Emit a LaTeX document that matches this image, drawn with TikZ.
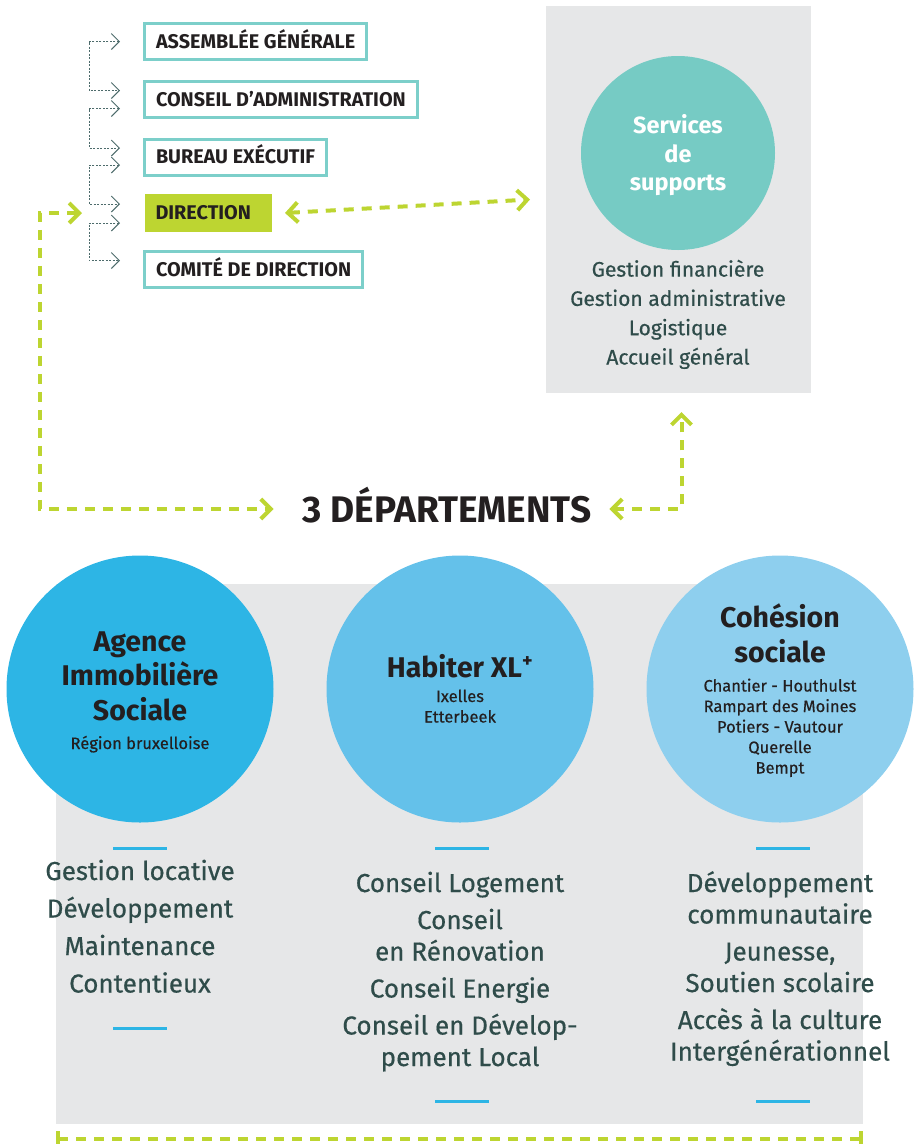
\documentclass[tikz,border=0pt]{standalone}
\usepackage{fontspec}
\setmainfont{Fira Sans}
\newfontfamily\medfont{Fira Sans}[FakeBold=0.5]
\usetikzlibrary{arrows.meta,calc}

\definecolor{boxteal}{HTML}{7CCFCA}
\definecolor{svcteal}{HTML}{76CBC4}
\definecolor{panelgrey}{HTML}{E6E7E8}
\definecolor{limegreen}{HTML}{BDD531}
\definecolor{aisblue}{HTML}{2DB5E5}
\definecolor{hxlblue}{HTML}{64C1EA}
\definecolor{cohblue}{HTML}{8ECFEE}
\definecolor{inkdark}{HTML}{231F20}
\definecolor{slate}{HTML}{2F4C4A}
\definecolor{dotcol}{HTML}{4D6B6B}

\begin{document}
\begin{tikzpicture}[x=1pt,y=-1pt,
	orgbox/.style={draw=boxteal,line width=3pt,fill=white,anchor=west,minimum height=36pt,
		inner xsep=11.5pt,text height=13.5pt,text depth=0pt,text=inkdark,
		font=\bfseries\fontsize{19.8}{19.8}\selectfont},
	dirbox/.style={orgbox,draw=none,fill=limegreen,minimum height=38pt,text width=105pt,align=left,inner xsep=11pt},
	orglink/.style={draw=dotcol,line width=1pt,dash pattern=on 2pt off 1.5pt,
		>={Straight Barb[length=8pt,width=16pt]},<->},
	greenlink/.style={draw=limegreen,line width=4pt,dash pattern=on 10pt off 8pt,
		>={Straight Barb[length=10pt,width=20pt]}},
	dept/.style={circle,minimum size=267pt,inner sep=0pt},
	depttitle/.style={anchor=base,align=center,text=inkdark,font=\bfseries\fontsize{28.5}{34.5}\selectfont},
	deptsub/.style={anchor=base,align=center,text=inkdark,font=\medfont\fontsize{16.5}{20.5}\selectfont},
	tasks/.style={anchor=base,align=center,text=slate,font=\medfont\fontsize{26}{31.5}\selectfont},
	bluerule/.style={draw=aisblue,line width=3pt}]
	\useasboundingbox (0,0) rectangle (916,1144);

	% gouvernance
	\node[orgbox] (asm) at (143,41.5) {ASSEMBLÉE GÉNÉRALE};
	\node[orgbox] (conseil) at (143,99.5) {CONSEIL D'ADMINISTRATION};
	\node[orgbox] (bureau) at (143,157) {BUREAU EXÉCUTIF};
	\node[dirbox] (direction) at (143,213) {DIRECTION};
	\node[orgbox] (comite) at (143,269.5) {COMITÉ DE DIRECTION};
	\foreach \a/\b/\da in {asm/conseil/0,conseil/bureau/9,bureau/direction/8,direction/comite/10}
		\draw[orglink] ($(\a.west)+(-23,\da)$) -- ++(-31,0) |- ($(\b.west)+(-23,-9)$);

	% services de supports (multi-line nodes sit on their last baseline)
	\node[fill=panelgrey,minimum width=265pt,minimum height=387pt,inner sep=0pt,outer sep=0pt,anchor=north west] (supportbox) at (546,6) {};
	\node[circle,fill=svcteal,minimum size=194pt,inner sep=0pt] (services) at (678,153) {};
	\node[anchor=base,align=center,text=white,font=\bfseries\fontsize{23.5}{28.5}\selectfont] (svctitle) at (678,190.5) {Services\\de\\supports};
	\node[anchor=base,align=center,text=slate,font=\medfont\fontsize{21}{29.3}\selectfont] (svclist) at (678,364.5)
		{Gestion financière\\Gestion administrative\\Logistique\\Accueil général};

	% departements
	\fill[panelgrey] (56,584) rectangle (863,1124);
	\node[anchor=base,inner sep=0pt,text height=26pt,text depth=0pt,text=inkdark,font=\bfseries\fontsize{37}{37}\selectfont] (depts) at (447,522) {3 DÉPARTEMENTS};
	\coordinate (dirin) at ($(direction.west)+(-61,0)$);
	\draw[greenlink,<->] (dirin) -- ++(-42,0) |- ($(depts.west)+(-29,0)$);
	\draw[greenlink,<->] ($(direction.east)+(12,0)$) -- ($(supportbox.west)+(-16,0)$);
	\draw[greenlink,<->] ($(depts.east)+(18,0)$) -| ($(supportbox.south)+(3,19)$);

	\node[dept,fill=aisblue] (ais) at (140,689) {};
	\node[dept,fill=hxlblue] (hxl) at (460,689) {};
	\node[dept,fill=cohblue] (coh) at (780,689) {};
	\node[depttitle] (aistitle) at (140,720) {Agence\\Immobilière\\Sociale};
	\node[deptsub] (aissub) at (140,749) {Région bruxelloise};
	\node[depttitle] (hxltitle) at (460,677) {Habiter XL\textsuperscript{+}};
	\node[deptsub] (hxlsub) at (460,722.5) {Ixelles\\Etterbeek};
	\node[depttitle] (cohtitle) at (780,662) {Cohésion\\sociale};
	\node[deptsub] (cohsub) at (780,773.5) {Chantier - Houthulst\\Rampart des Moines\\Potiers - Vautour\\Querelle\\Bempt};

	\node[tasks,font=\medfont\fontsize{26}{37.5}\selectfont] (aistasks) at (140,992.5)
		{Gestion locative\\Développement\\Maintenance\\Contentieux};
	\node[tasks] (hxltasks) at (460,1066)
		{Conseil Logement\\[5.5pt]Conseil\\en Rénovation\\[5.5pt]Conseil Energie\\[5.5pt]Conseil en Dévelop-\\pement Local};
	\node[tasks] (cohtasks) at (780,1060.5)
		{Développement\\communautaire\\[5.5pt]Jeunesse,\\Soutien scolaire\\[5.5pt]Accès à la culture\\Intergénérationnel};
	\foreach \c/\dx/\dy in {ais/0/339,hxl/2/412,coh/3/412}{
		\draw[bluerule] ($(\c)+(\dx-27,159)$) -- ++(54,0);
		\draw[bluerule] ($(\c)+(\dx-27,\dy)$) -- ++(54,0);
	}
	\draw[greenlink] (58,1139) -- (861,1139);
	\draw[limegreen,line width=4pt] (58,1131) -- (58,1144) (861,1131) -- (861,1144);
\end{tikzpicture}
\end{document}
